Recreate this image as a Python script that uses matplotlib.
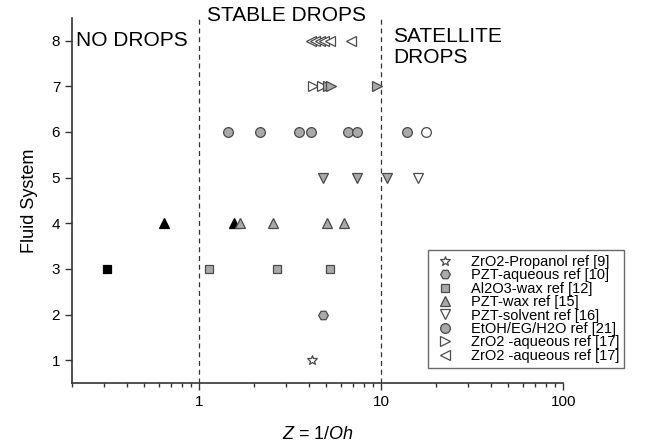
import matplotlib
matplotlib.use('Agg')
import matplotlib.pyplot as plt

plt.rcParams['font.family'] = ['Liberation Sans', 'DejaVu Sans']
plt.rcParams['mathtext.fontset'] = 'custom'
plt.rcParams['mathtext.rm'] = 'Liberation Sans'
plt.rcParams['mathtext.it'] = 'Liberation Sans:italic'

# Date: Z = 1/Oh pentru fiecare sistem de fluid
labels = ['ZrO2-Propanol ref [9]', 'PZT-aqueous ref [10]', 'Al2O3-wax ref [12]',
          'PZT-wax ref [15]', 'PZT-solvent ref [16]', 'EtOH/EG/H2O ref [21]',
          'ZrO2 -aqueous ref [17]', 'ZrO2 -aqueous ref [17]']
fluid_system = [1, 2, 3, 4, 5, 6, 7, 8]

z_propanol = [4.18]
z_pzt_aqueous = [4.8]
z_al2o3_wax = [0.31, 1.13, 2.68, 5.25]
z_pzt_wax = [0.64, 1.56, 1.68, 2.55, 5.05, 6.26]
z_pzt_solvent = [4.8, 7.4, 10.8, 16.0]
z_etoh = [1.44, 2.16, 3.54, 4.12, 6.6, 7.4, 13.9, 17.7]
z_zro2_right = [4.2, 4.7, 5.1, 5.3, 9.5]
z_zro2_left = [4.1, 4.35, 4.6, 4.85, 5.2, 6.8]

# umplerea fiecarui punct: g = gri, k = negru, w = alb
fill_propanol = ['w']
fill_pzt_aqueous = ['g']
fill_al2o3_wax = ['k', 'g', 'g', 'g']
fill_pzt_wax = ['k', 'k', 'g', 'g', 'g', 'g']
fill_pzt_solvent = ['g', 'g', 'g', 'w']
fill_etoh = ['g', 'g', 'g', 'g', 'g', 'g', 'g', 'w']
fill_zro2_right = ['w', 'w', 'g', 'g', 'g']
fill_zro2_left = ['w', 'w', 'w', 'w', 'w', 'w']

legend_fill = ['w', 'g', 'g', 'g', 'w', 'g', 'w', 'w']

series = [z_propanol, z_pzt_aqueous, z_al2o3_wax, z_pzt_wax,
          z_pzt_solvent, z_etoh, z_zro2_right, z_zro2_left]
fills = [fill_propanol, fill_pzt_aqueous, fill_al2o3_wax, fill_pzt_wax,
         fill_pzt_solvent, fill_etoh, fill_zro2_right, fill_zro2_left]
markers = ['*', 'H', 's', '^', 'v', 'o', '>', '<']
sizes = [7, 7, 6, 7, 7, 7, 7, 7]

colors = {'g': '#a9a9a9', 'k': 'black', 'w': 'white'}
edge = '#4a4a4a'

fig = plt.figure(figsize=(6.61, 4.46), dpi=100)
ax = fig.add_axes([0.109, 0.141, 0.743, 0.819])

for i in range(len(series)):
    for z, f in zip(series[i], fills[i]):
        ec = 'black' if f == 'k' else edge
        ax.plot(z, fluid_system[i], linestyle='none', marker=markers[i],
                markersize=sizes[i], markerfacecolor=colors[f],
                markeredgecolor=ec, markeredgewidth=0.9, zorder=3)

# intrari pentru legenda
handles = []
for i in range(len(labels)):
    h, = ax.plot([], [], linestyle='none', marker=markers[i], markersize=sizes[i],
                 markerfacecolor=colors[legend_fill[i]], markeredgecolor=edge,
                 markeredgewidth=0.9)
    handles.append(h)

# limitele regimurilor
ax.axvline(1, color='#333333', linestyle=(0, (4, 3)), linewidth=0.9)
ax.axvline(10, color='#333333', linestyle=(0, (4, 3)), linewidth=0.9)

ax.set_xscale('log')
ax.set_xlim(0.2, 100)
ax.set_ylim(0.5, 8.5)
ax.set_yticks(fluid_system)
ax.set_xticks([1, 10, 100])
ax.set_xticklabels(['1', '10', '100'])

for s in ['top', 'right']:
    ax.spines[s].set_visible(False)
for s in ['left', 'bottom']:
    ax.spines[s].set_color('#333333')
    ax.spines[s].set_linewidth(1.2)
ax.tick_params(which='major', direction='out', length=5, width=1, colors='#333333',
               labelsize=11, labelcolor='black')
ax.tick_params(which='minor', direction='out', length=3, width=1, colors='#333333')

ax.text(0.21, 8, 'NO DROPS', fontsize=15, va='center', ha='left')
ax.text(3.0, 8.56, 'STABLE DROPS', fontsize=15, va='center', ha='center', clip_on=False)
ax.text(11.6, 8.3, 'SATELLITE\nDROPS', fontsize=15, va='top', ha='left', linespacing=1.15)

ax.set_xlabel('$Z$ = 1/$Oh$', fontsize=13, labelpad=12)
ax.set_ylabel('Fluid System', fontsize=13, labelpad=10)

leg = fig.legend(handles, labels, loc='upper left', bbox_to_anchor=(0.647, 0.44),
                 borderaxespad=0, fontsize=10.5, frameon=True, fancybox=False,
                 edgecolor='#444444', labelspacing=-0.04, handletextpad=0.9,
                 borderpad=0.35, handlelength=1.7)
leg.get_frame().set_linewidth(1)

fig.savefig('out.png', dpi=100)
